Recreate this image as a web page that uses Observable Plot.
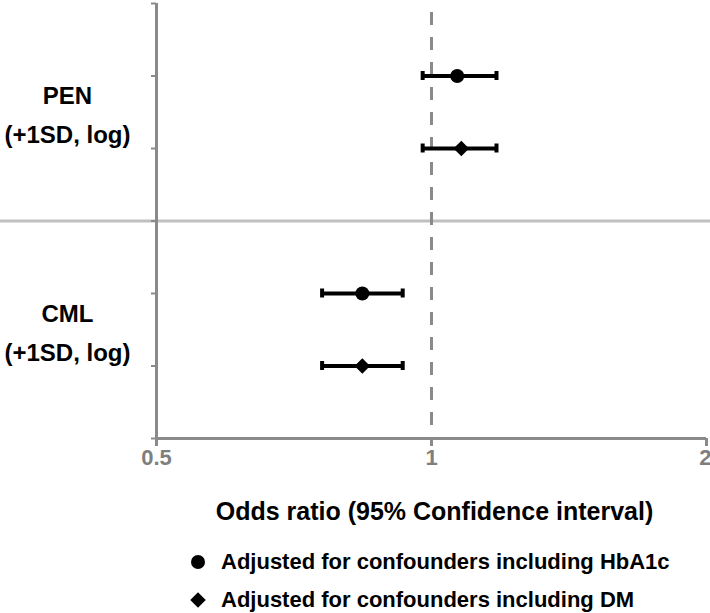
<!DOCTYPE html>
<html><head><meta charset="utf-8">
<script src="https://cdn.jsdelivr.net/npm/d3@7"></script>
<script src="https://cdn.jsdelivr.net/npm/@observablehq/plot@0.6"></script>
<style>
body{margin:0;background:#fff;font-family:"Liberation Sans",Arial,sans-serif;}
#chart svg{display:block;}
#legend{position:relative;height:73px;}
.lrow{position:absolute;left:188px;display:flex;align-items:center;height:30px;font-weight:bold;font-size:22px;color:#000;white-space:nowrap;}
.lrow svg{margin-right:13px;}
</style></head><body>
<div id="chart"></div>
<div id="legend"></div>
<script>
// ---- data ----
const categories = ["PEN\n(+1SD, log)", "CML\n(+1SD, log)"];
const categoryY = [4.5, 1.5];
const models = ["Adjusted for confounders including HbA1c", "Adjusted for confounders including DM"];
const rowCategory = ["PEN", "PEN", "CML", "CML"];
const rowModel = [models[0], models[1], models[0], models[1]];
const rowY = [5, 4, 2, 1];
const oddsRatio = [1.067, 1.078, 0.840, 0.840];
const ciLow = [0.978, 0.978, 0.759, 0.759];
const ciHigh = [1.178, 1.178, 0.930, 0.930];
const xTicks = [0.5, 1, 2];
const yTicks = [0, 1, 2, 3, 4, 5, 6];
const xTitle = "Odds ratio (95% Confidence interval)";

const rows = rowY.map((y, i) => ({y, model: rowModel[i], cat: rowCategory[i], or: oddsRatio[i], lo: ciLow[i], hi: ciHigh[i]}));
const cats = categories.map((label, i) => ({label, y: categoryY[i]}));

const gray = "#8a8a8a";
const tickText = {frameAnchor: "bottom", dy: 26, fontSize: 22, fontWeight: "bold", fill: "#7f7f7f"};
const chart = Plot.plot({
  width: 710,
  height: 540,
  marginLeft: 156,
  marginRight: 4,
  marginTop: 3,
  marginBottom: 102,
  style: {fontFamily: "'Liberation Sans', Arial, sans-serif", background: "#fff"},
  x: {type: "log", domain: [0.5, 2]},
  y: {domain: [0, 6]},
  symbol: {domain: models, range: ["circle", "diamond2"]},
  marks: [
    Plot.ruleY([3], {stroke: "#c0c0c0", strokeWidth: 3, insetLeft: -156, insetRight: -4}),
    Plot.ruleX([1], {stroke: gray, strokeWidth: 3, strokeDasharray: "13,12", insetTop: 9}),
    Plot.axisY({ticks: yTicks, tickSize: 5, tickFormat: () => "", stroke: gray, strokeWidth: 2, label: null}),
    Plot.axisX({ticks: xTicks, tickFormat: () => "", tickSize: 8, stroke: gray, strokeWidth: 3, label: null}),
    Plot.text(xTicks.slice(0, -1), {x: d => d, text: d => String(d), textAnchor: "middle", ...tickText}),
    Plot.text(xTicks.slice(-1), {x: d => d, text: d => String(d), textAnchor: "end", dx: 5, ...tickText}),
    Plot.ruleX([0.5], {stroke: gray, strokeWidth: 3}),
    Plot.ruleY([0], {stroke: gray, strokeWidth: 3}),
    Plot.ruleY(rows, {x1: "lo", x2: "hi", y: "y", stroke: "#000", strokeWidth: 4}),
    Plot.ruleX(rows, {x: "lo", y1: "y", y2: "y", stroke: "#000", strokeWidth: 4, insetTop: -4.5, insetBottom: -4.5}),
    Plot.ruleX(rows, {x: "hi", y1: "y", y2: "y", stroke: "#000", strokeWidth: 4, insetTop: -4.5, insetBottom: -4.5}),
    Plot.dot(rows, {x: "or", y: "y", symbol: "model", r: 7, fill: "#000", stroke: null}),
    Plot.text(cats, {y: "y", text: "label", frameAnchor: "left", dx: -89, dy: -1, textAnchor: "middle", fontSize: 24, fontWeight: "bold", lineHeight: 1.62, fill: "#000"}),
    Plot.text([xTitle], {frameAnchor: "bottom", dx: 3, dy: 81, fontSize: 25, fontWeight: "bold", fill: "#000"})
  ]
});
document.getElementById("chart").appendChild(chart);

// ---- legend ----
const legend = document.getElementById("legend");
const symPaths = [d3.symbol(d3.symbolCircle, 49 * Math.PI)(), d3.symbol(d3.symbolDiamond2, 49 * Math.PI)()];
models.forEach((m, i) => {
  const row = document.createElement("div");
  row.className = "lrow";
  row.style.top = (7 + i * 38) + "px";
  row.innerHTML = `<svg width="20" height="20" viewBox="-10 -10 20 20"><path d="${symPaths[i]}" fill="#000"/></svg><span>${m}</span>`;
  legend.appendChild(row);
});
</script>
</body></html>
